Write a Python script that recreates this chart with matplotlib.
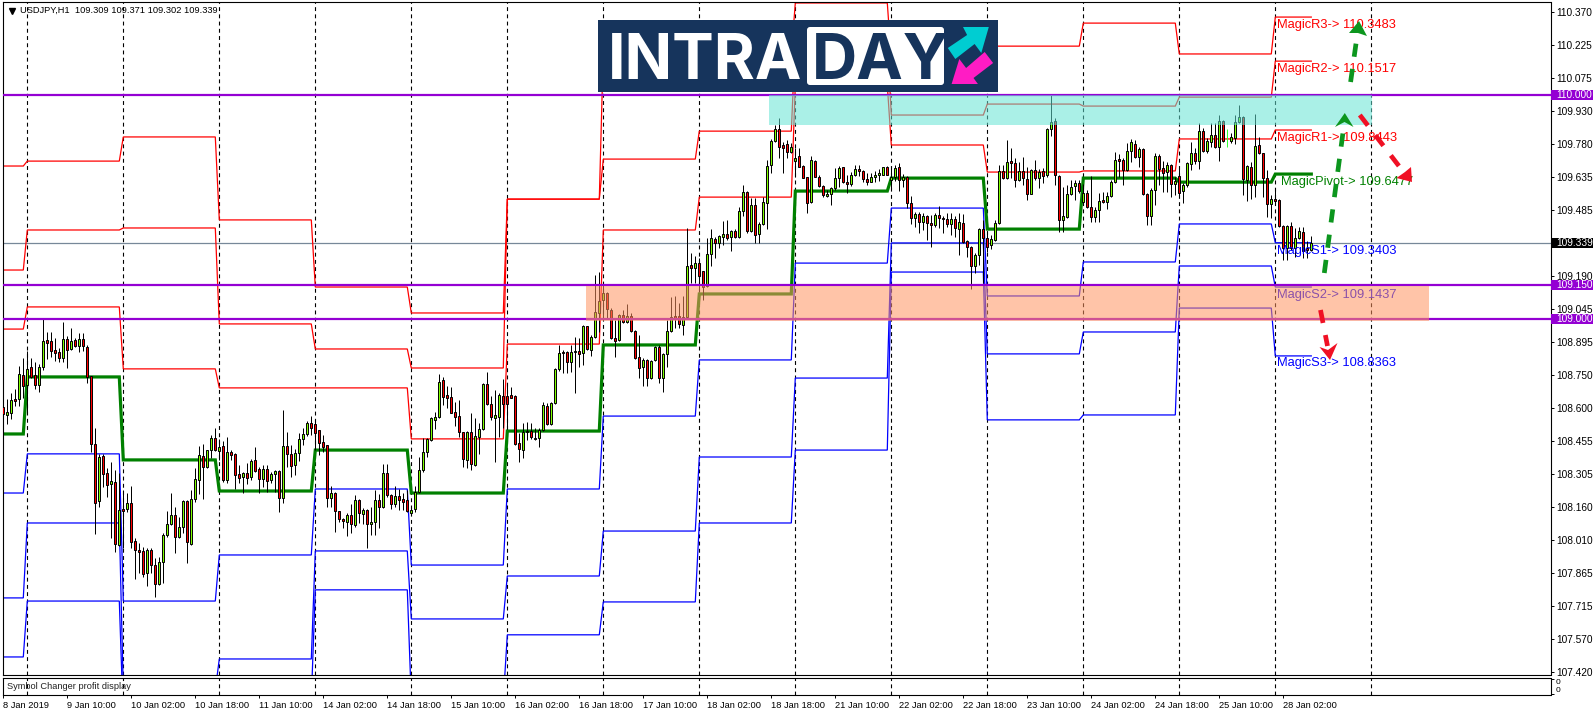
import numpy as np
import matplotlib
matplotlib.use("Agg")
import matplotlib.pyplot as plt
from matplotlib.patches import Rectangle, Polygon, FancyBboxPatch

plt.rcParams['font.family'] = ['Liberation Sans', 'DejaVu Sans']

opens = [
    108.607, 108.571, 108.580, 108.641, 108.640, 108.749, 108.706, 108.783, 108.747, 108.706,
    108.783, 108.904, 108.899, 108.859, 108.850, 108.826, 108.908, 108.866, 108.904, 108.877,
    108.908, 108.872, 108.743, 108.439, 108.184, 108.387, 108.309, 108.263, 108.269, 107.987,
    108.148, 108.148, 108.175, 108.005, 107.964, 107.961, 107.865, 107.965, 107.898, 107.816,
    107.914, 108.035, 108.081, 108.121, 108.023, 108.071, 108.184, 107.995, 108.196, 108.281,
    108.385, 108.336, 108.412, 108.466, 108.408, 108.430, 108.281, 108.403, 108.394, 108.305,
    108.291, 108.309, 108.291, 108.367, 108.327, 108.282, 108.327, 108.278, 108.305, 108.318,
    108.197, 108.433, 108.394, 108.345, 108.399, 108.461, 108.483, 108.533, 108.528, 108.501,
    108.448, 108.434, 108.197, 108.220, 108.139, 108.104, 108.093, 108.121, 108.080, 108.189,
    108.126, 108.144, 108.081, 108.090, 108.189, 108.160, 108.309, 108.211, 108.174, 108.206,
    108.193, 108.189, 108.133, 108.148, 108.227, 108.323, 108.403, 108.457, 108.549, 108.559,
    108.725, 108.658, 108.649, 108.582, 108.564, 108.492, 108.367, 108.495, 108.348, 108.473,
    108.506, 108.707, 108.618, 108.558, 108.562, 108.653, 108.653, 108.658, 108.653, 108.446,
    108.412, 108.492, 108.497, 108.464, 108.466, 108.501, 108.609, 108.528, 108.622, 108.774,
    108.850, 108.850, 108.805, 108.850, 108.854, 108.845, 108.966, 108.859, 108.917, 109.024,
    109.082, 109.115, 109.038, 108.913, 108.904, 109.015, 108.984, 109.011, 108.944, 108.828,
    108.783, 108.814, 108.734, 108.814, 108.872, 108.734, 108.841, 108.944, 109.011, 109.011,
    108.972, 109.008, 109.240, 109.228, 109.249, 109.213, 109.145, 109.288, 109.355, 109.340,
    109.367, 109.377, 109.364, 109.391, 109.364, 109.484, 109.569, 109.391, 109.507, 109.377,
    109.426, 109.516, 109.686, 109.797, 109.847, 109.775, 109.780, 109.744, 109.704, 109.730,
    109.681, 109.632, 109.520, 109.704, 109.636, 109.592, 109.550, 109.556, 109.583, 109.628,
    109.677, 109.610, 109.601, 109.641, 109.668, 109.659, 109.623, 109.613, 109.636, 109.645,
    109.645, 109.677, 109.621, 109.633, 109.677, 109.619, 109.633, 109.516, 109.449, 109.467,
    109.431, 109.458, 109.427, 109.418, 109.463, 109.451, 109.445, 109.422, 109.445, 109.402,
    109.427, 109.347, 109.320, 109.235, 109.284, 109.400, 109.360, 109.332, 109.352, 109.427,
    109.659, 109.628, 109.704, 109.695, 109.622, 109.659, 109.624, 109.560, 109.664, 109.628,
    109.659, 109.642, 109.847, 109.883, 109.639, 109.440, 109.454, 109.557, 109.592, 109.606,
    109.524, 109.561, 109.499, 109.457, 109.485, 109.530, 109.524, 109.548, 109.610, 109.713,
    109.709, 109.664, 109.749, 109.780, 109.722, 109.758, 109.557, 109.458, 109.574, 109.726,
    109.673, 109.655, 109.686, 109.601, 109.637, 109.570, 109.597, 109.691, 109.740, 109.704,
    109.838, 109.749, 109.789, 109.820, 109.767, 109.883, 109.790, 109.794, 109.807, 109.878,
    109.901, 109.619, 109.677, 109.597, 109.776, 109.740, 109.628, 109.512, 109.534, 109.530,
    109.414, 109.315, 109.414, 109.315, 109.360, 109.387, 109.315, 109.309,
]
highs = [
    108.662, 108.640, 108.667, 108.685, 108.790, 108.823, 108.858, 108.823, 108.805, 108.796,
    108.998, 108.939, 108.942, 108.913, 108.868, 108.984, 108.923, 108.957, 108.913, 108.938,
    108.935, 108.883, 108.744, 108.510, 108.394, 108.396, 108.332, 108.358, 108.324, 108.309,
    108.235, 108.223, 108.251, 108.019, 107.996, 107.981, 107.974, 107.974, 107.929, 107.934,
    108.041, 108.142, 108.220, 108.160, 108.115, 108.190, 108.190, 108.235, 108.333, 108.431,
    108.440, 108.414, 108.481, 108.512, 108.461, 108.455, 108.470, 108.413, 108.400, 108.346,
    108.317, 108.354, 108.372, 108.425, 108.339, 108.346, 108.346, 108.317, 108.324, 108.324,
    108.591, 108.494, 108.436, 108.416, 108.488, 108.510, 108.542, 108.565, 108.551, 108.503,
    108.479, 108.436, 108.253, 108.227, 108.142, 108.108, 108.130, 108.172, 108.212, 108.193,
    108.153, 108.148, 108.160, 108.235, 108.217, 108.351, 108.351, 108.217, 108.253, 108.238,
    108.220, 108.235, 108.153, 108.253, 108.384, 108.466, 108.467, 108.562, 108.585, 108.753,
    108.741, 108.699, 108.696, 108.629, 108.637, 108.495, 108.497, 108.577, 108.555, 108.533,
    108.711, 108.762, 108.655, 108.682, 108.667, 108.731, 108.704, 108.696, 108.658, 108.488,
    108.533, 108.537, 108.533, 108.510, 108.510, 108.629, 108.625, 108.629, 108.778, 108.884,
    108.860, 108.857, 108.883, 108.920, 108.913, 108.972, 108.969, 108.927, 109.196, 109.211,
    109.158, 109.121, 109.047, 108.995, 109.021, 109.039, 109.065, 109.024, 108.950, 108.927,
    108.823, 108.819, 108.816, 108.878, 108.883, 108.846, 108.995, 109.099, 109.102, 109.069,
    109.102, 109.404, 109.295, 109.282, 109.270, 109.215, 109.359, 109.400, 109.367, 109.374,
    109.438, 109.441, 109.397, 109.400, 109.498, 109.598, 109.572, 109.538, 109.538, 109.434,
    109.546, 109.710, 109.802, 109.866, 109.896, 109.791, 109.799, 109.784, 109.762, 109.762,
    109.687, 109.635, 109.727, 109.710, 109.642, 109.598, 109.575, 109.590, 109.672, 109.683,
    109.680, 109.642, 109.657, 109.687, 109.687, 109.665, 109.650, 109.650, 109.662, 109.668,
    109.680, 109.683, 109.680, 109.688, 109.695, 109.648, 109.639, 109.549, 109.479, 109.479,
    109.472, 109.464, 109.464, 109.475, 109.504, 109.460, 109.472, 109.472, 109.460, 109.472,
    109.469, 109.352, 109.326, 109.293, 109.405, 109.442, 109.382, 109.375, 109.442, 109.688,
    109.688, 109.799, 109.762, 109.718, 109.703, 109.725, 109.680, 109.668, 109.710, 109.668,
    109.673, 109.852, 110.001, 109.896, 109.643, 109.591, 109.598, 109.621, 109.621, 109.621,
    109.601, 109.576, 109.639, 109.501, 109.564, 109.569, 109.569, 109.621, 109.747, 109.737,
    109.718, 109.785, 109.802, 109.799, 109.770, 109.762, 109.561, 109.583, 109.740, 109.735,
    109.707, 109.703, 109.692, 109.633, 109.680, 109.609, 109.703, 109.792, 109.762, 109.874,
    109.852, 109.807, 109.874, 109.874, 109.911, 109.889, 109.847, 109.829, 109.911, 109.956,
    109.907, 109.688, 109.703, 109.916, 109.814, 109.743, 109.665, 109.554, 109.583, 109.534,
    109.420, 109.420, 109.434, 109.405, 109.412, 109.412, 109.350, 109.371,
]
lows = [
    108.428, 108.530, 108.554, 108.610, 108.610, 108.644, 108.577, 108.734, 108.685, 108.674,
    108.771, 108.820, 108.831, 108.811, 108.808, 108.805, 108.782, 108.860, 108.872, 108.853,
    108.857, 108.712, 108.406, 108.038, 108.160, 108.250, 108.205, 108.019, 107.959, 107.984,
    107.974, 108.138, 107.974, 107.835, 107.862, 107.847, 107.807, 107.862, 107.758, 107.810,
    107.817, 108.023, 108.078, 107.955, 108.019, 108.041, 107.910, 107.989, 108.183, 108.218,
    108.196, 108.333, 108.376, 108.408, 108.369, 108.269, 108.267, 108.369, 108.241, 108.264,
    108.220, 108.262, 108.279, 108.317, 108.223, 108.250, 108.227, 108.264, 108.227, 108.138,
    108.178, 108.339, 108.294, 108.302, 108.366, 108.436, 108.476, 108.481, 108.413, 108.391,
    108.406, 108.157, 108.157, 108.048, 108.093, 108.063, 108.031, 108.041, 108.071, 108.086,
    108.083, 107.977, 108.034, 108.034, 108.063, 108.153, 108.205, 108.148, 108.160, 108.145,
    108.145, 108.135, 108.123, 108.138, 108.220, 108.315, 108.384, 108.454, 108.506, 108.558,
    108.615, 108.600, 108.577, 108.522, 108.473, 108.336, 108.331, 108.324, 108.343, 108.394,
    108.503, 108.615, 108.548, 108.361, 108.473, 108.510, 108.506, 108.644, 108.436, 108.361,
    108.376, 108.458, 108.464, 108.458, 108.428, 108.497, 108.525, 108.525, 108.617, 108.768,
    108.756, 108.756, 108.763, 108.670, 108.786, 108.793, 108.860, 108.834, 108.913, 108.942,
    109.002, 109.002, 108.908, 108.831, 108.901, 108.980, 108.980, 108.942, 108.819, 108.734,
    108.699, 108.699, 108.729, 108.813, 108.711, 108.674, 108.783, 108.942, 108.957, 108.957,
    108.928, 108.997, 109.158, 109.161, 109.128, 109.084, 109.143, 109.237, 109.270, 109.318,
    109.330, 109.352, 109.304, 109.362, 109.359, 109.459, 109.385, 109.386, 109.340, 109.340,
    109.419, 109.400, 109.650, 109.791, 109.717, 109.653, 109.720, 109.739, 109.635, 109.677,
    109.628, 109.474, 109.516, 109.632, 109.587, 109.546, 109.543, 109.508, 109.575, 109.587,
    109.605, 109.563, 109.595, 109.638, 109.638, 109.613, 109.598, 109.610, 109.610, 109.617,
    109.641, 109.642, 109.576, 109.618, 109.572, 109.591, 109.494, 109.423, 109.409, 109.382,
    109.397, 109.352, 109.323, 109.412, 109.405, 109.382, 109.412, 109.375, 109.367, 109.285,
    109.341, 109.278, 109.133, 109.203, 109.241, 109.159, 109.300, 109.312, 109.350, 109.424,
    109.624, 109.624, 109.628, 109.591, 109.618, 109.598, 109.531, 109.557, 109.621, 109.583,
    109.606, 109.636, 109.817, 109.598, 109.390, 109.390, 109.449, 109.554, 109.531, 109.564,
    109.516, 109.494, 109.434, 109.431, 109.434, 109.519, 109.490, 109.546, 109.609, 109.636,
    109.598, 109.661, 109.703, 109.718, 109.677, 109.554, 109.420, 109.420, 109.509, 109.598,
    109.569, 109.569, 109.546, 109.554, 109.546, 109.516, 109.591, 109.665, 109.692, 109.668,
    109.744, 109.740, 109.767, 109.762, 109.707, 109.789, 109.767, 109.788, 109.782, 109.874,
    109.554, 109.528, 109.534, 109.546, 109.735, 109.546, 109.457, 109.449, 109.509, 109.409,
    109.263, 109.263, 109.308, 109.278, 109.355, 109.270, 109.270, 109.302,
]
closes = [
    108.574, 108.582, 108.635, 108.634, 108.752, 108.701, 108.774, 108.741, 108.706, 108.783,
    108.899, 108.893, 108.858, 108.849, 108.826, 108.908, 108.862, 108.899, 108.877, 108.908,
    108.877, 108.741, 108.439, 108.175, 108.381, 108.308, 108.259, 108.273, 107.995, 108.144,
    108.139, 108.175, 108.004, 107.964, 107.959, 107.861, 107.965, 107.901, 107.816, 107.911,
    108.032, 108.081, 108.121, 108.023, 108.071, 108.186, 108.000, 108.193, 108.282, 108.390,
    108.339, 108.412, 108.466, 108.412, 108.427, 108.278, 108.403, 108.393, 108.300, 108.290,
    108.309, 108.290, 108.366, 108.321, 108.282, 108.327, 108.273, 108.305, 108.318, 108.197,
    108.433, 108.394, 108.340, 108.399, 108.461, 108.483, 108.533, 108.510, 108.488, 108.443,
    108.428, 108.197, 108.220, 108.139, 108.104, 108.098, 108.121, 108.081, 108.189, 108.130,
    108.144, 108.081, 108.090, 108.189, 108.160, 108.309, 108.211, 108.174, 108.206, 108.191,
    108.181, 108.139, 108.144, 108.227, 108.323, 108.403, 108.461, 108.555, 108.559, 108.716,
    108.652, 108.647, 108.580, 108.562, 108.495, 108.372, 108.495, 108.352, 108.474, 108.506,
    108.707, 108.618, 108.562, 108.568, 108.658, 108.620, 108.620, 108.647, 108.442, 108.419,
    108.492, 108.497, 108.470, 108.469, 108.501, 108.613, 108.528, 108.622, 108.774, 108.845,
    108.845, 108.808, 108.850, 108.854, 108.844, 108.966, 108.863, 108.917, 109.029, 109.078,
    109.114, 109.042, 108.913, 108.899, 109.015, 108.984, 109.011, 108.947, 108.825, 108.778,
    108.814, 108.734, 108.813, 108.872, 108.734, 108.841, 108.944, 109.006, 109.002, 108.975,
    109.008, 109.236, 109.228, 109.249, 109.192, 109.143, 109.288, 109.359, 109.340, 109.368,
    109.377, 109.362, 109.391, 109.367, 109.484, 109.569, 109.391, 109.507, 109.373, 109.426,
    109.520, 109.681, 109.797, 109.847, 109.766, 109.765, 109.744, 109.766, 109.721, 109.680,
    109.628, 109.519, 109.708, 109.636, 109.592, 109.552, 109.560, 109.583, 109.628, 109.672,
    109.610, 109.601, 109.645, 109.668, 109.659, 109.623, 109.613, 109.636, 109.645, 109.650,
    109.677, 109.645, 109.633, 109.673, 109.619, 109.633, 109.516, 109.449, 109.467, 109.431,
    109.458, 109.427, 109.418, 109.463, 109.449, 109.445, 109.422, 109.445, 109.405, 109.431,
    109.344, 109.323, 109.235, 109.284, 109.400, 109.361, 109.320, 109.355, 109.427, 109.659,
    109.628, 109.700, 109.695, 109.622, 109.659, 109.628, 109.560, 109.664, 109.628, 109.655,
    109.639, 109.847, 109.878, 109.642, 109.440, 109.458, 109.557, 109.588, 109.606, 109.570,
    109.561, 109.499, 109.457, 109.485, 109.525, 109.521, 109.548, 109.610, 109.709, 109.704,
    109.664, 109.749, 109.789, 109.722, 109.758, 109.557, 109.461, 109.574, 109.726, 109.668,
    109.650, 109.686, 109.601, 109.615, 109.561, 109.597, 109.695, 109.740, 109.704, 109.838,
    109.749, 109.794, 109.820, 109.768, 109.883, 109.794, 109.790, 109.811, 109.878, 109.901,
    109.624, 109.682, 109.597, 109.771, 109.740, 109.628, 109.512, 109.534, 109.525, 109.414,
    109.315, 109.414, 109.315, 109.360, 109.391, 109.302, 109.306, 109.339,
]

# daily levels of the indicator, one value per day segment
day_bars = [6] + [24] * 13 + [10]
r3 = [109.683, 109.705, 109.813, 109.442, 109.142, 109.026, 109.535, 110.201, 110.179, 110.412, 110.157, 110.219, 110.322, 110.184, 110.349]
r2 = [109.218, 109.397, 109.406, 108.977, 108.865, 108.780, 109.535, 109.714, 109.839, 110.246, 109.911, 109.960, 109.951, 109.991, 110.152]
r1 = [108.954, 109.053, 108.776, 108.691, 108.691, 108.463, 108.887, 109.397, 109.544, 110.045, 109.777, 109.656, 109.661, 109.804, 109.844]
pivot = [108.485, 108.740, 108.369, 108.230, 108.413, 108.221, 108.498, 108.883, 109.111, 109.571, 109.629, 109.401, 109.629, 109.611, 109.647]
s1 = [108.221, 108.396, 107.738, 107.944, 108.239, 107.899, 108.239, 108.565, 108.816, 109.249, 109.495, 109.102, 109.254, 109.424, 109.340]
s2 = [107.752, 108.087, 107.341, 107.479, 107.962, 107.658, 107.850, 108.051, 108.382, 108.735, 109.339, 108.843, 108.941, 109.236, 109.142]
s3 = [107.488, 107.738, 107.207, 107.296, 107.788, 107.296, 107.587, 107.734, 108.087, 108.413, 109.209, 108.548, 108.570, 109.048, 108.834]

y_ticks = [110.370, 110.225, 110.075, 109.930, 109.780, 109.635, 109.485, 109.340, 109.190, 109.045, 108.895,
           108.750, 108.600, 108.455, 108.305, 108.160, 108.010, 107.865, 107.715, 107.570, 107.420]
x_labels = ['8 Jan 2019', '9 Jan 10:00', '10 Jan 02:00', '10 Jan 18:00', '11 Jan 10:00', '14 Jan 02:00', '14 Jan 18:00',
            '15 Jan 10:00', '16 Jan 02:00', '16 Jan 18:00', '17 Jan 10:00', '18 Jan 02:00', '18 Jan 18:00', '21 Jan 10:00',
            '22 Jan 02:00', '22 Jan 18:00', '23 Jan 10:00', '24 Jan 02:00', '24 Jan 18:00', '25 Jan 10:00', '28 Jan 02:00']
separators = list(range(6, 343, 24))
h_levels = [110.000, 109.150, 109.000]
bid = 109.339
magic_labels = [('MagicR3-> 110.3483', 110.313, 'red'), ('MagicR2-> 110.1517', 110.116, 'red'),
                ('MagicR1-> 109.8443', 109.808, 'red'), ('MagicPivot-> 109.6477', 109.611, '#008000'),
                ('MagicS1-> 109.3403', 109.303, 'blue'), ('MagicS2-> 109.1437', 109.106, 'blue'),
                ('MagicS3-> 108.8363', 108.804, 'blue')]

W, H = 1596, 716
fig = plt.figure(figsize=(W / 100, H / 100), dpi=100, facecolor='white')


def px_rect(x0, y0, x1, y1):
    return [x0 / W, 1 - y1 / H, (x1 - x0) / W, (y1 - y0) / H]


ax = fig.add_axes(px_rect(2.7, 2.3, 1550.5, 675.3))
ax2 = fig.add_axes(px_rect(2.7, 677.7, 1550.5, 695.3))
ov = fig.add_axes([0, 0, 1, 1], facecolor='none')
ov.set_xlim(0, W)
ov.set_ylim(H, 0)
ov.axis('off')

bars = np.arange(len(closes))
o, h, l, c = map(np.array, (opens, highs, lows, closes))
ax.set_xlim(-0.15, 386.8)
ax.set_ylim(107.406, 110.415)

for sep in separators:
    ax.axvline(sep, color='k', lw=0.8, ls=(0, (3.5, 3)), zorder=1)
    ax2.axvline(sep, color='k', lw=0.8, ls=(0, (3.5, 3)), zorder=1)

ax.axhline(bid, color='#778899', lw=0.9, zorder=1.5)
for level, color, lw, z in [(r3, 'red', 0.9, 2), (r2, 'red', 0.9, 2), (r1, 'red', 0.9, 2),
                            (s1, 'blue', 0.9, 2), (s2, 'blue', 0.9, 2), (s3, 'blue', 0.9, 2),
                            (pivot, '#008000', 2.3, 2.5)]:
    ax.plot(bars, np.repeat(level, day_bars), color=color, lw=lw, zorder=z, solid_joinstyle='miter')

up = c >= o
doji = 306
wick_colors = ['#33ff33' if i == doji else 'k' for i in bars]
ax.vlines(bars, l, h, colors=wick_colors, lw=0.72, zorder=3)
mask = bars != doji
ax.bar(bars[mask], np.abs(c - o)[mask], bottom=np.minimum(o, c)[mask], width=0.52,
       color=np.where(up, '#7fff00', '#ff0000')[mask], edgecolor='k', linewidth=0.7, zorder=4)

for text, y, color in magic_labels:
    x = 318.5 if 'Pivot' not in text else 319.4
    ax.text(x, y, text, color=color, fontsize=9.3, va='center', ha='left', zorder=4.5)

for level in h_levels:
    ax.axhline(level, color='#9400d3', lw=1.6, zorder=5)

# the two zones sit over everything, semi transparent
ax.add_patch(Rectangle((191.4, 109.866), 150.8, 0.134, facecolor='#65e4d5', alpha=0.55, lw=0, zorder=6))
ax.add_patch(Rectangle((145.8, 108.992), 210.6, 0.155, facecolor='#ff9461', alpha=0.55, lw=0, zorder=6))

# right axis
ax.yaxis.tick_right()
ax.set_yticks(y_ticks)
ax.set_yticklabels([f'{v:.3f}' for v in y_ticks])
ax.tick_params(axis='y', right=True, length=2.2, width=0.7, labelsize=7.3, pad=1.8)
ax.set_xticks([])
for s in ax.spines.values():
    s.set_linewidth(0.8)

# price boxes on the right axis
trans = ax.get_yaxis_transform()
for price, face in [(110.000, '#9400d3'), (109.150, '#9400d3'), (109.000, '#9400d3'), (bid, 'k')]:
    ax.add_patch(Rectangle((1.0006, price - 0.0235), 0.0266, 0.047, transform=trans, facecolor=face,
                           lw=0, clip_on=False, zorder=8))
    ax.text(1.0036, price, f'{price:.3f}', transform=trans, color='white', fontsize=7.3, va='center',
            ha='left', clip_on=False, zorder=9)

ax.text(17.5 / 1547.8, 1 - 8.4 / 673, 'USDJPY,H1  109.309 109.371 109.302 109.339', transform=ax.transAxes,
        fontsize=6.7, va='center', ha='left', color='k', zorder=7)
ax.plot([9.3 / 1547.8 - 0.0003], [1 - 8.6 / 673], marker='v', ms=4.2, color='k', transform=ax.transAxes, zorder=7)

# sub window
ax2.set_xlim(ax.get_xlim())
ax2.set_ylim(0, 1)
ax2.yaxis.tick_right()
ax2.set_yticks([0.05, 0.95])
ax2.set_yticklabels(['', ''])
ax2.tick_params(axis='y', length=2.0, width=0.7)
ax2.set_xticks(np.arange(len(x_labels)) * 16)
ax2.set_xticklabels(x_labels, ha='left')
ax2.tick_params(axis='x', length=2.0, width=0.7, labelsize=6.7, pad=1.8)
ax2.text(4.5 / 1547.8, 0.5, 'Symbol Changer profit display', transform=ax2.transAxes, fontsize=6.7,
         va='center', ha='left', color='#222222')
for s in ax2.spines.values():
    s.set_linewidth(0.8)
ax2.text(1.0035, 0.73, '0', transform=ax2.transAxes, fontsize=6, va='center', ha='left', clip_on=False)
ax2.text(1.0035, 0.27, '0', transform=ax2.transAxes, fontsize=6, va='center', ha='left', clip_on=False)

# logo, drawn in pixel space
ov.add_patch(Rectangle((598, 20), 400, 72, facecolor='#16345c', lw=0, zorder=20))
ov.add_patch(FancyBboxPatch((809, 29), 133, 54, boxstyle='round,pad=2,rounding_size=3', facecolor='white',
                            lw=0, zorder=21))
ov.text(608, 79, 'INTRA', fontsize=45, fontweight='bold', family='Inter', color='white', ha='left',
        va='baseline', zorder=22)
ov.text(812, 79, 'DAY', fontsize=45, fontweight='bold', family='Inter', color='#16345c', ha='left',
        va='baseline', zorder=22)
ov.add_patch(Polygon([(963, 27), (988.8, 27), (981.3, 53), (974.6, 44), (955.3, 59), (947.8, 48), (967.1, 35)],
                     facecolor='#00cdd2', lw=0, zorder=22))
ov.add_patch(Polygon([(951.6, 84), (959.3, 59), (966.1, 68), (984.7, 52), (993.1, 63), (973.5, 78), (977.9, 84)],
                     facecolor='#ff1cc4', lw=0, zorder=22))

# the hand drawn dashed arrows
green = '#0c961e'
dash_red = '#f01024'
arrows = [
    ((1324.3, 273), (1344.0, 125), green, [(1344.8, 113), (1335, 127), (1344.5, 122), (1353.5, 127)]),
    ((1350.6, 82), (1357.5, 33), green, [(1359, 21), (1349, 33), (1358, 33), (1367, 36)]),
    ((1359.8, 115), (1402, 170), dash_red, [(1412, 182), (1396.5, 178), (1405, 172), (1411, 167)]),
    ((1320.5, 310), (1327.5, 346), dash_red, [(1330, 360), (1319.5, 347), (1328, 350), (1337.5, 343)]),
]
for start, end, color, head in arrows:
    ov.plot([start[0], end[0]], [start[1], end[1]], color=color, lw=3.4, ls=(0, (2.8, 2.6)), solid_capstyle='butt',
            dash_capstyle='butt', zorder=15)
    ov.add_patch(Polygon(head, facecolor=color, lw=0, zorder=15))

fig.savefig('out.png', dpi=100, facecolor='white')
